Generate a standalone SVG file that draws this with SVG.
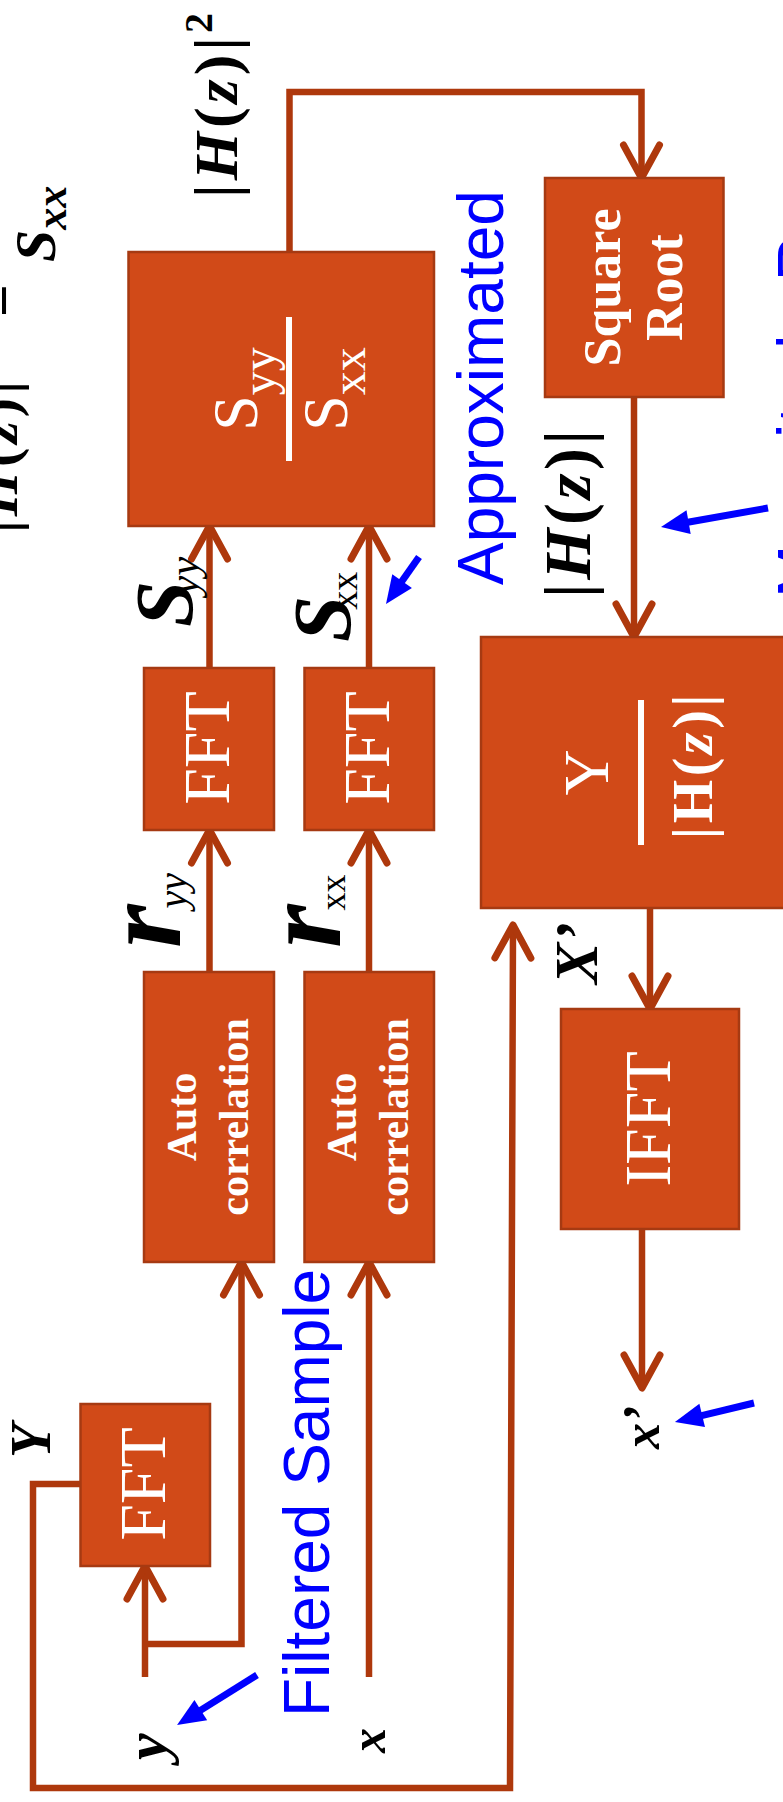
<svg xmlns="http://www.w3.org/2000/svg" width="783" height="1802" viewBox="0 0 783 1802">
  <defs>
    <style>
      .box { fill: #D14A18; stroke: #A63A12; stroke-width: 2.5; }
      .wire { fill: none; stroke: #AE380C; stroke-width: 6.5; stroke-linejoin: miter; }
      .arr { marker-end: url(#head); }
      .inbox { fill: #FFFFFF; font-family: "Liberation Serif", "Times New Roman", serif; }
      .lbl { fill: #000000; font-family: "Liberation Serif", "Times New Roman", serif; font-weight: bold; font-style: italic; }
      .up { font-style: normal; }
      .note { fill: #0000FF; font-family: "Liberation Sans", Arial, sans-serif; font-size: 64px; }
      .pointer { fill: none; stroke: #0000FF; stroke-width: 7; marker-end: url(#bhead); }
    </style>
    <!-- open chevron arrowhead for signal lines -->
    <marker id="head" markerUnits="userSpaceOnUse" viewBox="-40 -22 44 44" markerWidth="44" markerHeight="44" refX="0" refY="0" orient="auto" overflow="visible">
      <path d="M-33,-18 L0,0 L-33,18" fill="none" stroke="#AE380C" stroke-width="7" stroke-linecap="round" stroke-linejoin="round"/>
    </marker>
    <!-- filled head for the blue pointers -->
    <marker id="bhead" markerUnits="userSpaceOnUse" viewBox="-10 -14 32 28" markerWidth="32" markerHeight="28" refX="0" refY="0" orient="auto" overflow="visible">
      <path d="M-8,-12 L20,0 L-8,12 z" fill="#0000FF"/>
    </marker>
  </defs>

  <rect width="783" height="1802" fill="#FFFFFF"/>

  <!-- connectors -->
  <g id="connectors">
    <path class="wire arr" d="M289.5,252 V92 H641.5 V178"/>
    <path class="wire arr" d="M634,397 V637"/>
    <path class="wire arr" d="M209.5,668 V526"/>
    <path class="wire arr" d="M369,668 V526"/>
    <path class="wire arr" d="M209.5,972 V830"/>
    <path class="wire arr" d="M369,972 V830"/>
    <path class="wire arr" d="M145,1677 V1566"/>
    <path class="wire arr" d="M145,1644 H241.5 V1262"/>
    <path class="wire arr" d="M369,1677 V1262"/>
    <path class="wire arr" d="M80,1484 H33 V1788 H510 L513,925"/>
    <path class="wire arr" d="M650,908 V1009"/>
    <path class="wire arr" d="M642,1229 V1388"/>
  </g>

  <!-- ratio of spectra -->
  <g id="ratio">
    <rect class="box" x="128.5" y="252" width="305.5" height="274"/>
    <text class="inbox" transform="translate(257,389) rotate(-90)" text-anchor="middle" font-size="64">S<tspan font-size="48" dy="18">yy</tspan></text>
    <rect x="286" y="317" width="6" height="144" fill="#FFFFFF"/>
    <text class="inbox" transform="translate(347,389) rotate(-90)" text-anchor="middle" font-size="64">S<tspan font-size="48" dy="18">xx</tspan></text>
  </g>

  <g id="sqrt">
    <rect class="box" x="545" y="178" width="178.5" height="219"/>
    <text class="inbox" transform="translate(620,287.5) rotate(-90)" text-anchor="middle" font-size="52" font-weight="bold">Square</text>
    <text class="inbox" transform="translate(682,287.5) rotate(-90)" text-anchor="middle" font-size="52" font-weight="bold">Root</text>
  </g>

  <g id="fft-yy">
    <rect class="box" x="144" y="668" width="130" height="162"/>
    <text class="inbox" transform="translate(229,748) rotate(-90)" text-anchor="middle" font-size="66">FFT</text>
  </g>

  <g id="fft-xx">
    <rect class="box" x="304.5" y="668" width="129.5" height="162"/>
    <text class="inbox" transform="translate(389,748) rotate(-90)" text-anchor="middle" font-size="66">FFT</text>
  </g>

  <g id="autocorr-y">
    <rect class="box" x="144" y="972" width="130" height="290"/>
    <text class="inbox" transform="translate(196,1117) rotate(-90)" text-anchor="middle" font-size="42" font-weight="bold">Auto</text>
    <text class="inbox" transform="translate(248,1117) rotate(-90)" text-anchor="middle" font-size="42" font-weight="bold">correlation</text>
  </g>

  <g id="autocorr-x">
    <rect class="box" x="304.5" y="972" width="129.5" height="290"/>
    <text class="inbox" transform="translate(356,1117) rotate(-90)" text-anchor="middle" font-size="42" font-weight="bold">Auto</text>
    <text class="inbox" transform="translate(408,1117) rotate(-90)" text-anchor="middle" font-size="42" font-weight="bold">correlation</text>
  </g>

  <g id="deconv">
    <rect class="box" x="481" y="637" width="310" height="271"/>
    <text class="inbox" transform="translate(608,772.5) rotate(-90)" text-anchor="middle" font-size="64">Y</text>
    <rect x="638" y="700" width="6" height="145" fill="#FFFFFF"/>
    <text class="inbox" transform="translate(712,765) rotate(-90)" text-anchor="middle" font-size="56" font-weight="bold" fill="#F2F2F2" letter-spacing="3.5">|H(<tspan font-style="italic">z</tspan>)|</text>
  </g>

  <g id="ifft">
    <rect class="box" x="561" y="1009" width="178" height="220"/>
    <text class="inbox" transform="translate(670,1119) rotate(-90)" text-anchor="middle" font-size="66">IFFT</text>
  </g>

  <g id="fft-y">
    <rect class="box" x="80.5" y="1404" width="129.5" height="162"/>
    <text class="inbox" transform="translate(165,1484) rotate(-90)" text-anchor="middle" font-size="66">FFT</text>
  </g>

  <!-- signal labels -->
  <g id="labels">
    <text class="lbl" transform="translate(237,198) rotate(-90)" font-size="62" letter-spacing="4"><tspan class="up">|</tspan>H<tspan class="up">(</tspan>z<tspan class="up">)|</tspan><tspan class="up" font-size="40" dy="-25">2</tspan></text>
    <text class="lbl" transform="translate(17,533) rotate(-90)" font-size="58" letter-spacing="4"><tspan class="up">|</tspan>H<tspan class="up">(</tspan>z<tspan class="up">)|</tspan></text>
    <text class="lbl up" transform="translate(17,317) rotate(-90)" font-size="58">=</text>
    <text class="lbl" transform="translate(55,262) rotate(-90)" font-size="58">S<tspan font-size="44" dy="11">xx</tspan></text>

    <text class="lbl" transform="translate(192,627) rotate(-90)" font-size="83">S<tspan font-weight="normal" font-size="43" dx="-14" dy="6">yy</tspan></text>
    <text class="lbl" transform="translate(350,642) rotate(-90)" font-size="83">S<tspan class="up" font-weight="normal" font-size="38" dx="-14" dy="7">xx</tspan></text>
    <text class="lbl" transform="translate(180,948) rotate(-90)" font-size="112">r<tspan font-weight="normal" font-size="40" dx="-4" dy="6">yy</tspan></text>
    <text class="lbl" transform="translate(340,948) rotate(-90)" font-size="112">r<tspan class="up" font-weight="normal" font-size="36" dx="-6" dy="5">xx</tspan></text>

    <text class="lbl" transform="translate(590,598) rotate(-90)" font-size="66" letter-spacing="3.6"><tspan class="up">|</tspan>H<tspan class="up">(</tspan>z<tspan class="up">)|</tspan></text>
    <text class="lbl" transform="translate(597,984) rotate(-90)" font-size="62">X’</text>
    <text class="lbl" transform="translate(50,1458) rotate(-90)" font-size="56">Y</text>
    <text class="lbl" transform="translate(166,1760) rotate(-90)" font-size="60">y</text>
    <text class="lbl" transform="translate(385,1753) rotate(-90)" font-size="50">x</text>
    <text class="lbl" transform="translate(659,1449) rotate(-90)" font-size="52">x’</text>
  </g>

  <!-- blue annotations -->
  <g id="notes">
    <text class="note" transform="translate(503,585) rotate(-90)">Approximated</text>
    <text class="note" transform="translate(329,1717) rotate(-90)">Filtered Sample</text>
    <text class="note" transform="translate(823,598) rotate(-90)">Magnitude Response</text>
    <line class="pointer" x1="419" y1="557" x2="397.5" y2="587.6"/>
    <line class="pointer" x1="768" y1="508" x2="680.7" y2="523.5"/>
    <line class="pointer" x1="257" y1="1675" x2="194" y2="1714.4"/>
    <line class="pointer" x1="754" y1="1403" x2="694.4" y2="1417.3"/>
  </g>
</svg>
